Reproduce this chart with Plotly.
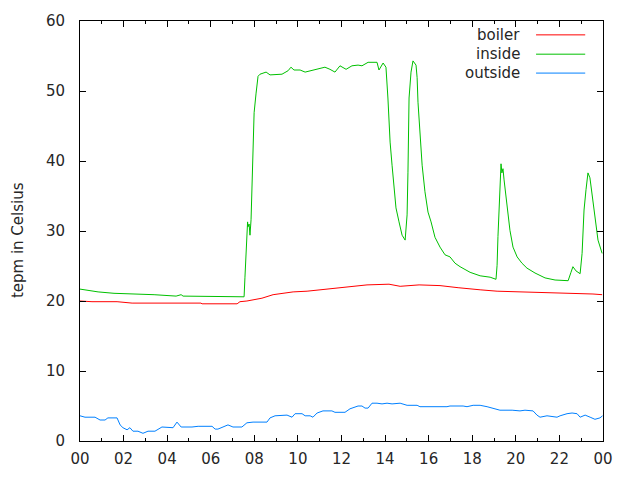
import plotly.graph_objects as go

# Time in hours since midnight
inside_t = [0, 0.55, 0.83, 1.56, 2.57, 3.40, 4.41, 4.64, 4.73, 6.10, 7.53, 7.57, 7.62, 7.66, 7.69,
            7.71, 7.76, 7.80, 7.85, 7.89, 7.94, 7.99, 8.08, 8.12, 8.17, 8.26, 8.40, 8.54, 8.72,
            8.99, 9.27, 9.55, 9.68, 9.82, 10.10, 10.33, 10.78, 11.24, 11.47, 11.70, 11.93, 12.21,
            12.48, 12.76, 12.94, 13.22, 13.63, 13.72, 13.91, 14.04, 14.13, 14.23, 14.32, 14.41,
            14.50, 14.64, 14.78, 14.92, 15.01, 15.05, 15.10, 15.19, 15.28, 15.42, 15.47, 15.51,
            15.60, 15.70, 15.83, 15.97, 16.11, 16.29, 16.52, 16.75, 16.98, 17.21, 17.44, 17.90,
            18.36, 18.82, 19.09, 19.14, 19.18, 19.23, 19.27, 19.32, 19.36, 19.41, 19.46, 19.55,
            19.64, 19.73, 19.87, 20.06, 20.28, 20.51, 20.88, 21.34, 21.80, 22.40, 22.53, 22.62,
            22.76, 22.95, 23.04, 23.13, 23.22, 23.31, 23.40, 23.50, 23.63, 23.77, 23.96]
inside_v = [21.7, 21.4, 21.3, 21.1, 21.0, 20.9, 20.7, 20.9, 20.7, 20.6, 20.6, 23.4, 26.1, 29.7, 31.3,
            30.6, 31.0, 29.4, 31.6, 36.9, 41.6, 46.9, 49.7, 51.1, 52.1, 52.4, 52.6, 52.7, 52.3,
            52.3, 52.4, 52.9, 53.4, 53.0, 53.0, 52.7, 53.0, 53.4, 53.1, 52.7, 53.6, 53.1,
            53.6, 53.7, 53.6, 54.1, 54.1, 53.0, 54.0, 53.4, 49.0, 42.7, 39.4, 36.1,
            33.3, 31.3, 29.4, 28.7, 32.3, 38.4, 49.0, 52.7, 54.3, 53.7, 51.9, 48.4,
            43.3, 39.4, 35.6, 32.7, 31.3, 29.1, 27.7, 26.6, 26.3, 25.4, 24.9, 24.1,
            23.6, 23.4, 23.1, 25.1, 29.2, 33.3, 37.6, 39.6, 38.3, 38.9, 37.3, 34.7,
            32.0, 30.1, 27.7, 26.3, 25.4, 24.7, 24.0, 23.3, 23.0, 22.9, 24.1, 24.9,
            24.3, 23.9, 26.8, 33.0, 35.9, 38.3, 37.6, 35.4, 32.0, 28.7, 26.8]

boiler_t = [0, 0.55, 1.70, 2.39, 5.55, 5.60, 7.21, 7.34, 7.66, 8.12, 8.35, 8.86, 9.32, 9.78, 10.42,
            11.34, 12.07, 12.39, 13.17, 14.18, 14.69, 15.56, 16.52, 17.35, 17.90, 18.36, 19.14,
            20.42, 21.71, 23.54, 23.96]
boiler_v = [20.0, 19.9, 19.9, 19.7, 19.7, 19.6, 19.6, 19.9, 20.0, 20.3, 20.4, 20.9, 21.1, 21.3, 21.4,
            21.7, 22.0, 22.1, 22.3, 22.4, 22.1, 22.3, 22.2, 21.9, 21.7, 21.6, 21.4,
            21.3, 21.1, 21.0, 20.9]

outside_t = [0, 0.23, 0.69, 0.92, 1.15, 1.28, 1.70, 1.84, 1.97, 2.16, 2.29, 2.43, 2.66, 2.89, 3.12,
             3.44, 3.76, 3.99, 4.13, 4.27, 4.45, 4.54, 4.64, 5.14, 5.42, 6.06, 6.20, 6.33, 6.56,
             6.79, 7.02, 7.43, 7.66, 7.94, 8.58, 8.72, 8.95, 9.32, 9.50, 9.73, 9.87, 10.19, 10.33,
             10.56, 10.69, 10.88, 11.15, 11.56, 11.70, 12.07, 12.16, 12.39, 12.76, 12.94, 13.08,
             13.22, 13.40, 13.63, 13.86, 14.09, 14.32, 14.69, 15.01, 15.47, 15.60, 16.84, 16.98,
             17.58, 17.76, 18.04, 18.36, 18.68, 18.95, 19.27, 19.83, 20.19, 20.42, 20.79, 20.97,
             21.11, 21.43, 21.89, 22.03, 22.35, 22.58, 22.81, 22.95, 23.18, 23.41, 23.63, 23.86, 23.98]
outside_v = [3.6, 3.4, 3.4, 3.0, 3.0, 3.3, 3.3, 2.3, 1.9, 1.6, 1.9, 1.4, 1.4, 1.1, 1.4,
             1.4, 2.0, 2.0, 1.9, 1.9, 2.7, 2.4, 2.0, 2.0, 2.1, 2.1, 1.7, 1.7, 2.0,
             2.3, 2.0, 2.0, 2.6, 2.7, 2.7, 3.3, 3.6, 3.6, 3.7, 3.4, 3.9, 3.9, 3.6,
             3.6, 3.4, 4.0, 4.3, 4.3, 4.1, 4.1, 4.1, 4.6, 5.0, 5.0, 4.7,
             4.7, 5.4, 5.4, 5.3, 5.4, 5.3, 5.4, 5.1, 5.1, 4.9, 4.9, 5.0,
             5.0, 4.9, 5.1, 5.1, 4.9, 4.7, 4.4, 4.4, 4.3, 4.4, 4.3, 3.7,
             3.4, 3.6, 3.4, 3.6, 3.9, 4.0, 3.9, 3.4, 3.7, 3.4, 3.1, 3.3, 3.6]

x_tickvals = list(range(0, 25, 2))
x_ticktext = ["00", "02", "04", "06", "08", "10", "12", "14", "16", "18", "20", "22", "00"]

series = [("boiler", boiler_t, boiler_v, "#ff0000"),
          ("inside", inside_t, inside_v, "#00c000"),
          ("outside", outside_t, outside_v, "#0080ff")]

FONT = "DejaVu Sans, sans-serif"
TXT = "#262626"

fig = go.Figure()
for name, t, v, c in series:
    fig.add_trace(go.Scatter(x=t, y=v, mode="lines", name=name,
                             line=dict(color=c, width=1), showlegend=False))

# gnuplot-style legend: text right-aligned, line sample after it
leg_y = [0.967, 0.921, 0.876]
for (name, t, v, c), yy in zip(series, leg_y):
    fig.add_annotation(x=0.845, y=yy, xref="paper", yref="paper", text=name,
                       showarrow=False, xanchor="right", yanchor="middle",
                       font=dict(family=FONT, size=15, color=TXT))
    fig.add_shape(type="line", xref="paper", yref="paper", x0=0.872, x1=0.966,
                  y0=yy, y1=yy, line=dict(color=c, width=1))

# y-axis title (gnuplot places it slightly below centre)
fig.add_annotation(x=-0.118, y=0.479, xref="paper", yref="paper", text="tepm in Celsius",
                   textangle=-90, showarrow=False, xanchor="center", yanchor="middle",
                   font=dict(family=FONT, size=15, color=TXT))

fig.update_layout(
    width=640, height=480,
    margin=dict(l=72, r=45, t=13, b=47, autoexpand=False),
    paper_bgcolor="white", plot_bgcolor="white",
    font=dict(family=FONT, size=15, color=TXT),
)
fig.update_xaxes(range=[0, 24], tickvals=x_tickvals, ticktext=x_ticktext, automargin=False,
                 showgrid=False, zeroline=False, showline=True, linecolor="black", linewidth=1,
                 mirror="ticks", ticks="inside", ticklen=6, tickcolor="black", ticklabelstandoff=4,
                 minor=dict(dtick=1, ticks="inside", ticklen=3, tickcolor="black"))
fig.update_yaxes(range=[0, 60], dtick=10, automargin=False,
                 showgrid=False, zeroline=False, showline=True, linecolor="black", linewidth=1,
                 mirror="ticks", ticks="inside", ticklen=6, tickcolor="black", ticklabelstandoff=11)

fig.write_html("out.html")
